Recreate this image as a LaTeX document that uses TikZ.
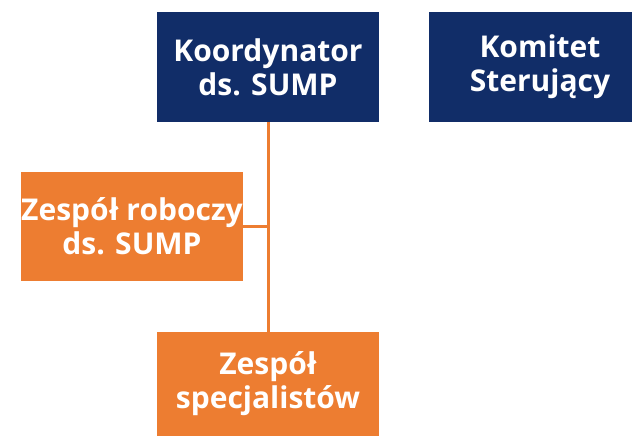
\documentclass[tikz,border=0pt]{standalone}
\usepackage{fontspec}
\setmainfont{Open Sans}
\definecolor{navy}{HTML}{112D68}
\definecolor{orng}{HTML}{ED7D31}
\begin{document}
\begin{tikzpicture}[x=1pt,y=-1pt,
  box/.style={inner sep=0pt, outer sep=0pt, text=white, font=\fontsize{30}{34}\selectfont\bfseries, align=center},
  navybox/.style={box, fill=navy},
  orngbox/.style={box, fill=orng},
  link/.style={draw=orng, line width=3pt}]
\useasboundingbox (0,0) rectangle (632,436);
\begin{scope}
\clip (0,0) rectangle (632,436);
\node[navybox, minimum width=222pt, minimum height=110pt] (koord) at (268,67) {Koordynator\\ds. SUMP};
\node[navybox, minimum width=222pt, minimum height=110pt] (komitet) at (540,67) {Komitet\\Sterujący};
\node[orngbox, minimum width=222pt, minimum height=109pt] (roboczy) at (132,226.5) {Zespół roboczy\\ds. SUMP};
\node[orngbox, minimum width=222pt, minimum height=104pt] (spec) at (268,384) {Zespół\\specjalistów};
\draw[link] (koord.south) -- (spec.north);
\coordinate (j) at (268,226.5);
\draw[link] (roboczy.east) -- (j);
\end{scope}
\end{tikzpicture}
\end{document}
